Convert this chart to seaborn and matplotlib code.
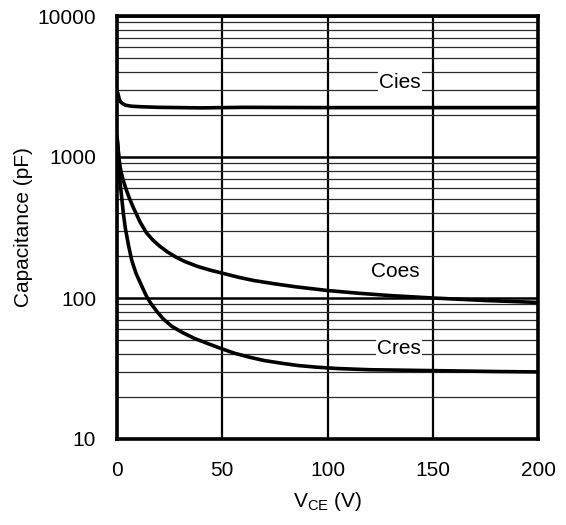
import matplotlib
matplotlib.use("Agg")
import matplotlib.pyplot as plt
import matplotlib.ticker as mticker
import numpy as np
import pandas as pd
import seaborn as sns

# Capacitance vs collector-emitter voltage (pF over V)
cies_vce = [0, 0.5, 1, 1.5, 2.5, 4, 7, 12, 20, 40, 60, 100, 140, 170, 200]
cies_pf = [2950, 2800, 2600, 2480, 2400, 2330, 2290, 2270, 2250, 2230, 2250, 2240, 2240, 2240, 2240]

coes_vce = [0, 0.5, 1, 1.5, 2, 3, 4.5, 6, 8, 11, 14, 17, 20, 24, 28, 32, 38, 44, 50,
            58, 65, 75, 85, 100, 115, 130, 150, 175, 200]
coes_pf = [1400, 1150, 960, 850, 775, 680, 580, 505, 430, 345, 290, 258, 235, 212, 195, 182, 168, 158, 150,
           140, 133, 126, 120, 113, 108, 104, 100, 96, 93]

cres_vce = [0, 0.5, 1, 1.5, 2.2, 3, 4, 5.5, 7, 9, 11.7, 14, 16, 19, 22, 26, 31, 37, 44, 50,
            56, 63, 70, 78, 86, 95, 105, 120, 140, 160, 180, 200]
cres_pf = [1400, 1150, 850, 650, 520, 400, 310, 235, 185, 150, 122, 103, 92, 80, 71, 63, 57, 51.5, 47, 43.5,
           40.5, 38, 36, 34.5, 33.2, 32.3, 31.6, 31.0, 30.7, 30.4, 30.1, 29.9]

series_names = ["Cies", "Coes", "Cres"]
label_pos = {"Cies": (134.5, 3400), "Coes": (132, 153), "Cres": (134, 44)}

x_ticks = [0, 50, 100, 150, 200]
y_ticks = [10, 100, 1000, 10000]

frames = []
for name, xs, ys in zip(series_names, [cies_vce, coes_vce, cres_vce], [cies_pf, coes_pf, cres_pf]):
    frames.append(pd.DataFrame({"VCE": xs, "C": ys, "series": name}))
df = pd.concat(frames, ignore_index=True)

sns.set_theme(style="white")
plt.rcParams["font.family"] = ["Liberation Sans", "DejaVu Sans"]
plt.rcParams["mathtext.fontset"] = "custom"
plt.rcParams["mathtext.rm"] = "Liberation Sans"
plt.rcParams["mathtext.it"] = "Liberation Sans"
plt.rcParams["text.color"] = "black"

fig = plt.figure(figsize=(5.66, 5.25), dpi=100)
fig.patch.set_facecolor("white")
ax = fig.add_axes([117 / 566, 1 - 439 / 525, (538 - 117) / 566, (439 - 16) / 525])
ax.set_facecolor("white")

sns.lineplot(data=df, x="VCE", y="C", hue="series", units="series", estimator=None,
             palette={n: "black" for n in series_names}, linewidth=2.6,
             sort=False, legend=False, ax=ax, zorder=3)

ax.set_yscale("log")
ax.set_xlim(0, 200)
ax.set_ylim(10, 10000)
ax.set_xticks(x_ticks)
ax.set_xticklabels([str(t) for t in x_ticks])
ax.yaxis.set_major_locator(mticker.FixedLocator(y_ticks))
ax.yaxis.set_major_formatter(mticker.FixedFormatter([str(t) for t in y_ticks]))
ax.yaxis.set_minor_locator(mticker.LogLocator(base=10, subs=np.arange(2, 10)))
ax.yaxis.set_minor_formatter(mticker.NullFormatter())

ax.set_axisbelow(True)
ax.grid(axis="x", which="major", color="black", linewidth=1.6)
ax.grid(axis="y", which="major", color="black", linewidth=1.8)
ax.grid(axis="y", which="minor", color="#2a2a2a", linewidth=0.9)

ax.tick_params(axis="both", which="both", length=0, labelsize=15, colors="black")
ax.tick_params(axis="x", pad=16)
ax.tick_params(axis="y", pad=15)

for sp in ax.spines.values():
    sp.set_visible(True)
    sp.set_color("black")
    sp.set_linewidth(2.6)
    sp.set_zorder(5)

for name in series_names:
    x, y = label_pos[name]
    ax.text(x, y, name, fontsize=15, color="black", ha="center", va="center", zorder=4,
            bbox=dict(facecolor="white", edgecolor="none", pad=1.0))

ax.set_xlabel(r"V$_{\mathregular{CE}}$ (V)", fontsize=15, labelpad=7, color="black")
ax.set_ylabel("Capacitance (pF)", fontsize=15, labelpad=3, color="black")

fig.savefig("out.png", dpi=100, facecolor="white")
